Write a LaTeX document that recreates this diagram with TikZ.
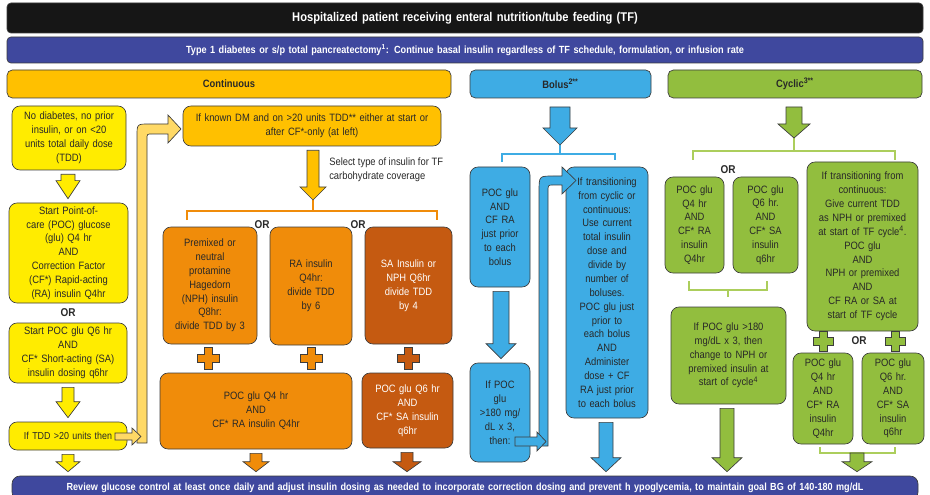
\documentclass[tikz,border=0pt]{standalone}
\usepackage{fontspec}
\setmainfont{Liberation Sans}[FakeStretch=0.88]
\usetikzlibrary{calc}
\definecolor{tfblack}{RGB}{22,22,22}
\definecolor{tfnavy}{RGB}{63,72,158}
\definecolor{tfamber}{RGB}{255,192,0}
\definecolor{tfyellow}{RGB}{255,236,0}
\definecolor{tfpale}{RGB}{255,217,102}
\definecolor{tforange}{RGB}{240,140,10}
\definecolor{tfbrown}{RGB}{197,90,17}
\definecolor{tfsky}{RGB}{62,172,228}
\definecolor{tfgreen}{RGB}{146,190,62}
\definecolor{tflime}{RGB}{172,206,92}
\definecolor{tfedge}{RGB}{60,60,60}
\definecolor{tftext}{RGB}{40,40,40}
\tikzset{
  tfbox/.style={draw=tfedge, line width=0.5pt, rounded corners=6pt, align=center, inner sep=0pt, text=tftext, font=\fontsize{8}{10.4}\selectfont},
  tfbar/.style={tfbox, rounded corners=3pt, text=white, font=\fontsize{7.8}{10}\selectfont\bfseries},
  tfhead/.style={tfbox, rounded corners=4pt, font=\fontsize{8}{10}\selectfont\bfseries},
  ortext/.style={font=\fontsize{8.5}{10}\selectfont\bfseries, text=tftext},
  blockarrow/.style={draw=tfedge, line width=0.5pt},
  bracket/.style={line width=1.5pt},
}
% box from corner (x1,y1) to (x2,y2), pixel units
\newcommand{\boxat}[7]{\node[#1, minimum width={(#5-#3)*0.75pt}, minimum height={(#6-#4)*0.75pt}, text width={(#5-#3-6)*0.75pt}] (#2) at ({(#3+#5)/2},{(#4+#6)/2}) {#7};}
% block arrow pointing down: colour, x, from, to, half shaft, half head, head length
\newcommand{\dnarrow}[7]{%
  \coordinate (da-t) at ($(#2,0)!(#3)!(#2,10)$);
  \coordinate (da-b) at ($(#2,0)!(#4)!(#2,10)$);
  \filldraw[blockarrow, fill=#1] ($(da-t)+(-#5,4)$) -- ($(da-t)+(#5,4)$) -- ($(da-b)+(#5,-4-#7)$) -- ($(da-b)+(#6,-4-#7)$) -- ($(da-b)+(0,-4)$) -- ($(da-b)+(-#6,-4-#7)$) -- ($(da-b)+(-#5,-4-#7)$) -- cycle;}
% plus sign: colour, x, y, half size
\newcommand{\plusat}[4]{\filldraw[blockarrow, fill=#1] (#2-4,#3-#4) -- (#2+4,#3-#4) -- (#2+4,#3-4) -- (#2+#4,#3-4) -- (#2+#4,#3+4) -- (#2+4,#3+4) -- (#2+4,#3+#4) -- (#2-4,#3+#4) -- (#2-4,#3+4) -- (#2-#4,#3+4) -- (#2-#4,#3-4) -- (#2-4,#3-4) -- cycle;}
\begin{document}
\begin{tikzpicture}[x=0.75pt, y=-0.75pt]
\useasboundingbox (0,0) rectangle (930,495);
\clip (0,0) rectangle (930,495);
% top bars
\boxat{tfbar, fill=tfblack, font=\fontsize{9.5}{11}\selectfont\bfseries}{title}{7}{3}{923}{33}{Hospitalized patient receiving enteral nutrition/tube feeding (TF)}
\boxat{tfbar, fill=tfnavy}{typeone}{7}{37}{923}{63}{Type 1 diabetes or s/p total pancreatectomy\textsuperscript{1}: Continue basal insulin regardless of TF schedule, formulation, or infusion rate}
\boxat{tfhead, fill=tfamber}{conthead}{7}{70}{451}{98}{Continuous}
\boxat{tfhead, fill=tfsky}{bolushead}{470}{70}{651}{98}{Bolus\textsuperscript{2**}}
\boxat{tfhead, fill=tfgreen}{cyclichead}{668}{70}{922}{98}{Cyclic\textsuperscript{3**}}
% continuous, no diabetes
\boxat{tfbox, fill=tfyellow}{nodiab}{12}{106}{126}{170}{No diabetes, no prior\\insulin, or on <20\\units total daily dose\\(TDD)}
\boxat{tfbox, fill=tfyellow}{startqfour}{9}{203}{128}{303}{Start Point-of-\\care (POC) glucose\\(glu) Q4 hr\\AND\\Correction Factor\\(CF*) Rapid-acting\\(RA) insulin Q4hr}
\node[ortext] (orone) at (68,313) {OR};
\boxat{tfbox, fill=tfyellow}{startqsix}{9}{323}{127}{383}{Start POC glu Q6 hr\\AND\\CF* Short-acting (SA)\\insulin dosing q6hr}
\boxat{tfbox, fill=tfyellow, font=\fontsize{7.6}{9}\selectfont}{tddtwenty}{9}{422}{127}{450}{If TDD >20 units then}
% continuous, known DM
\boxat{tfbox, fill=tfamber}{knowndm}{183}{106}{441}{146}{If known DM and on >20 units TDD** either at start or\\after CF*-only (at left)}
\node[anchor=north west, align=left, inner sep=0pt, text=tftext, font=\fontsize{8}{10.4}\selectfont] (select) at (329,158) {Select type of insulin for TF\\carbohydrate coverage};
\boxat{tfbox, fill=tforange}{premix}{163}{227}{257}{344}{Premixed or\\neutral\\protamine\\Hagedorn\\(NPH) insulin\\Q8hr:\\divide TDD by 3}
\boxat{tfbox, fill=tforange}{rains}{270}{227}{352}{345}{RA insulin\\Q4hr:\\divide TDD\\by 6}
\boxat{tfbox, fill=tfbrown, text=white}{sains}{365}{227}{452}{344}{SA Insulin or\\NPH Q6hr\\divide TDD\\by 4}
\node[ortext] (ortwo) at (262,225) {OR};
\node[ortext] (orthree) at (358,225) {OR};
\boxat{tfbox, fill=tforange}{pocqfour}{160}{373}{352}{449}{POC glu Q4 hr\\AND\\CF* RA insulin Q4hr}
\boxat{tfbox, fill=tfbrown, text=white}{pocqsix}{362}{373}{453}{448}{POC glu Q6 hr\\AND\\CF* SA insulin\\q6hr}
% bolus
\boxat{tfbox, fill=tfsky}{pocbolus}{470}{167}{530}{287}{POC glu\\AND\\CF RA\\just prior\\to each\\bolus}
\boxat{tfbox, fill=tfsky}{ifpoc}{470}{363}{530}{462}{If POC\\glu\\>180 mg/\\dL x 3,\\then:}
\boxat{tfbox, fill=tfsky}{transit}{566}{167}{648}{418}{If transitioning\\from cyclic or\\continuous:\\Use current\\total insulin\\dose and\\divide by\\number of\\boluses.\\POC glu just\\prior to\\each bolus\\AND\\Administer\\dose + CF\\RA just prior\\to each bolus}
% cyclic
\boxat{tfbox, fill=tfgreen}{cycqfour}{665}{177}{724}{273}{POC glu\\Q4 hr\\AND\\CF* RA\\insulin\\Q4hr}
\boxat{tfbox, fill=tfgreen}{cycqsix}{733}{177}{798}{273}{POC glu\\Q6 hr.\\AND\\CF* SA\\insulin\\q6hr}
\node[ortext] (orfour) at (728,170) {OR};
\boxat{tfbox, fill=tfgreen}{fromcont}{807}{162}{918}{331}{If transitioning from\\continuous:\\Give current TDD\\as NPH or premixed\\at start of TF cycle\textsuperscript{4}.\\POC glu\\AND\\NPH or premixed\\AND\\CF RA or SA at\\start of TF cycle}
\boxat{tfbox, fill=tfgreen}{change}{671}{307}{786}{404}{If POC glu >180\\mg/dL x 3, then\\change to NPH or\\premixed insulin at\\start of cycle\textsuperscript{4}}
\boxat{tfbox, fill=tfgreen}{contqfour}{793}{353}{853}{444}{POC glu\\Q4 hr\\AND\\CF* RA\\insulin\\Q4hr}
\boxat{tfbox, fill=tfgreen}{contqsix}{862}{353}{924}{444}{POC glu\\Q6 hr.\\AND\\CF* SA\\insulin\\q6hr}
\node[ortext] (orfive) at (859,341) {OR};
% bottom bar
\boxat{tfbar, fill=tfnavy, rounded corners=6pt, font=\fontsize{7.75}{10}\selectfont\bfseries}{review}{12}{476}{918}{500}{Review glucose control at least once daily and adjust insulin dosing as needed to incorporate correction dosing and prevent h ypoglycemia, to maintain goal BG of 140-180 mg/dL}
% brackets
\coordinate (obrk) at (313,204);
\draw[bracket, tforange] (187,220) -- (187,211) -- (437,211) -- (437,220);
\draw[bracket, tforange] (313,200) -- (313,211);
\coordinate (bbrk) at (560,149);
\draw[bracket, tfsky] (502,162) -- (502,154) -- (615,154) -- (615,160);
\draw[bracket, tfsky] (560,145) -- (560,154);
\coordinate (gbrk) at (794,142);
\draw[bracket, tflime] (693,160) -- (693,151) -- (895,151) -- (895,160);
\draw[bracket, tflime] (794,138) -- (794,151);
\coordinate (gbrkmid) at (728,292);
\draw[bracket, tflime] (689,281) -- (689,290) -- (767,290) -- (767,281);
\draw[bracket, tflime] (728,290) -- (728,297);
\coordinate (gbrklow) at (857,449);
\draw[bracket, tflime] (820,447) -- (820,453) -- (895,453) -- (895,447);
% header arrow starts
\coordinate (bolustop) at (560,103);
\coordinate (cyclictop) at (794,103);
% down arrows
\dnarrow{tfyellow}{68}{nodiab.south}{startqfour.north}{7}{12}{18}
\dnarrow{tfyellow}{68}{startqsix.south}{tddtwenty.north}{6}{12}{16}
\dnarrow{tfyellow}{68}{tddtwenty.south}{review.north}{6}{12}{10}
\dnarrow{tfamber}{313}{knowndm.south}{obrk}{6}{13}{13}
\dnarrow{tforange}{256}{pocqfour.south}{review.north}{6}{13}{10}
\dnarrow{tfbrown}{407}{pocqsix.south}{review.north}{6}{14}{10}
\dnarrow{tfsky}{560}{bolustop}{bbrk}{10}{17}{17}
\dnarrow{tfsky}{501}{pocbolus.south}{ifpoc.north}{8}{15}{15}
\dnarrow{tfsky}{606}{transit.south}{review.north}{7}{15}{14}
\dnarrow{tfgreen}{794}{cyclictop}{gbrk}{8}{16}{14}
\dnarrow{tfgreen}{727}{change.south}{review.north}{7}{15}{14}
\dnarrow{tfgreen}{857}{gbrklow}{review.north}{7}{15}{10}
% plus signs
\plusat{tforange}{208}{358}{11}
\plusat{tforange}{311}{358}{11}
\plusat{tfbrown}{408}{358}{11}
\plusat{tfgreen}{823}{341}{10}
\plusat{tfgreen}{895}{341}{10}
% bent arrows
\filldraw[blockarrow, fill=tfpale] (137,443) -- (137,136) .. controls (137,124) .. (149,124) -- (168,124) -- (168,115) -- (181,129) -- (168,143) -- (168,134) -- (152,134) .. controls (147,134) .. (147,139) -- (147,443) -- cycle;
\filldraw[blockarrow, fill=tfpale] (115,433) -- (132,433) -- (132,428) -- (141,436.5) -- (132,445) -- (132,440) -- (115,440) -- cycle;
\filldraw[blockarrow, fill=tfsky] (539,446) -- (539,192) .. controls (539,176) .. (553,176) -- (562,176) -- (562,167) -- (576,180.5) -- (562,194) -- (562,185) -- (553,185) .. controls (548,185) .. (548,192) -- (548,446) -- cycle;
\filldraw[blockarrow, fill=tfsky] (515,437) -- (537,437) -- (537,432) -- (546,441.5) -- (537,451) -- (537,446) -- (515,446) -- cycle;
\end{tikzpicture}
\end{document}
